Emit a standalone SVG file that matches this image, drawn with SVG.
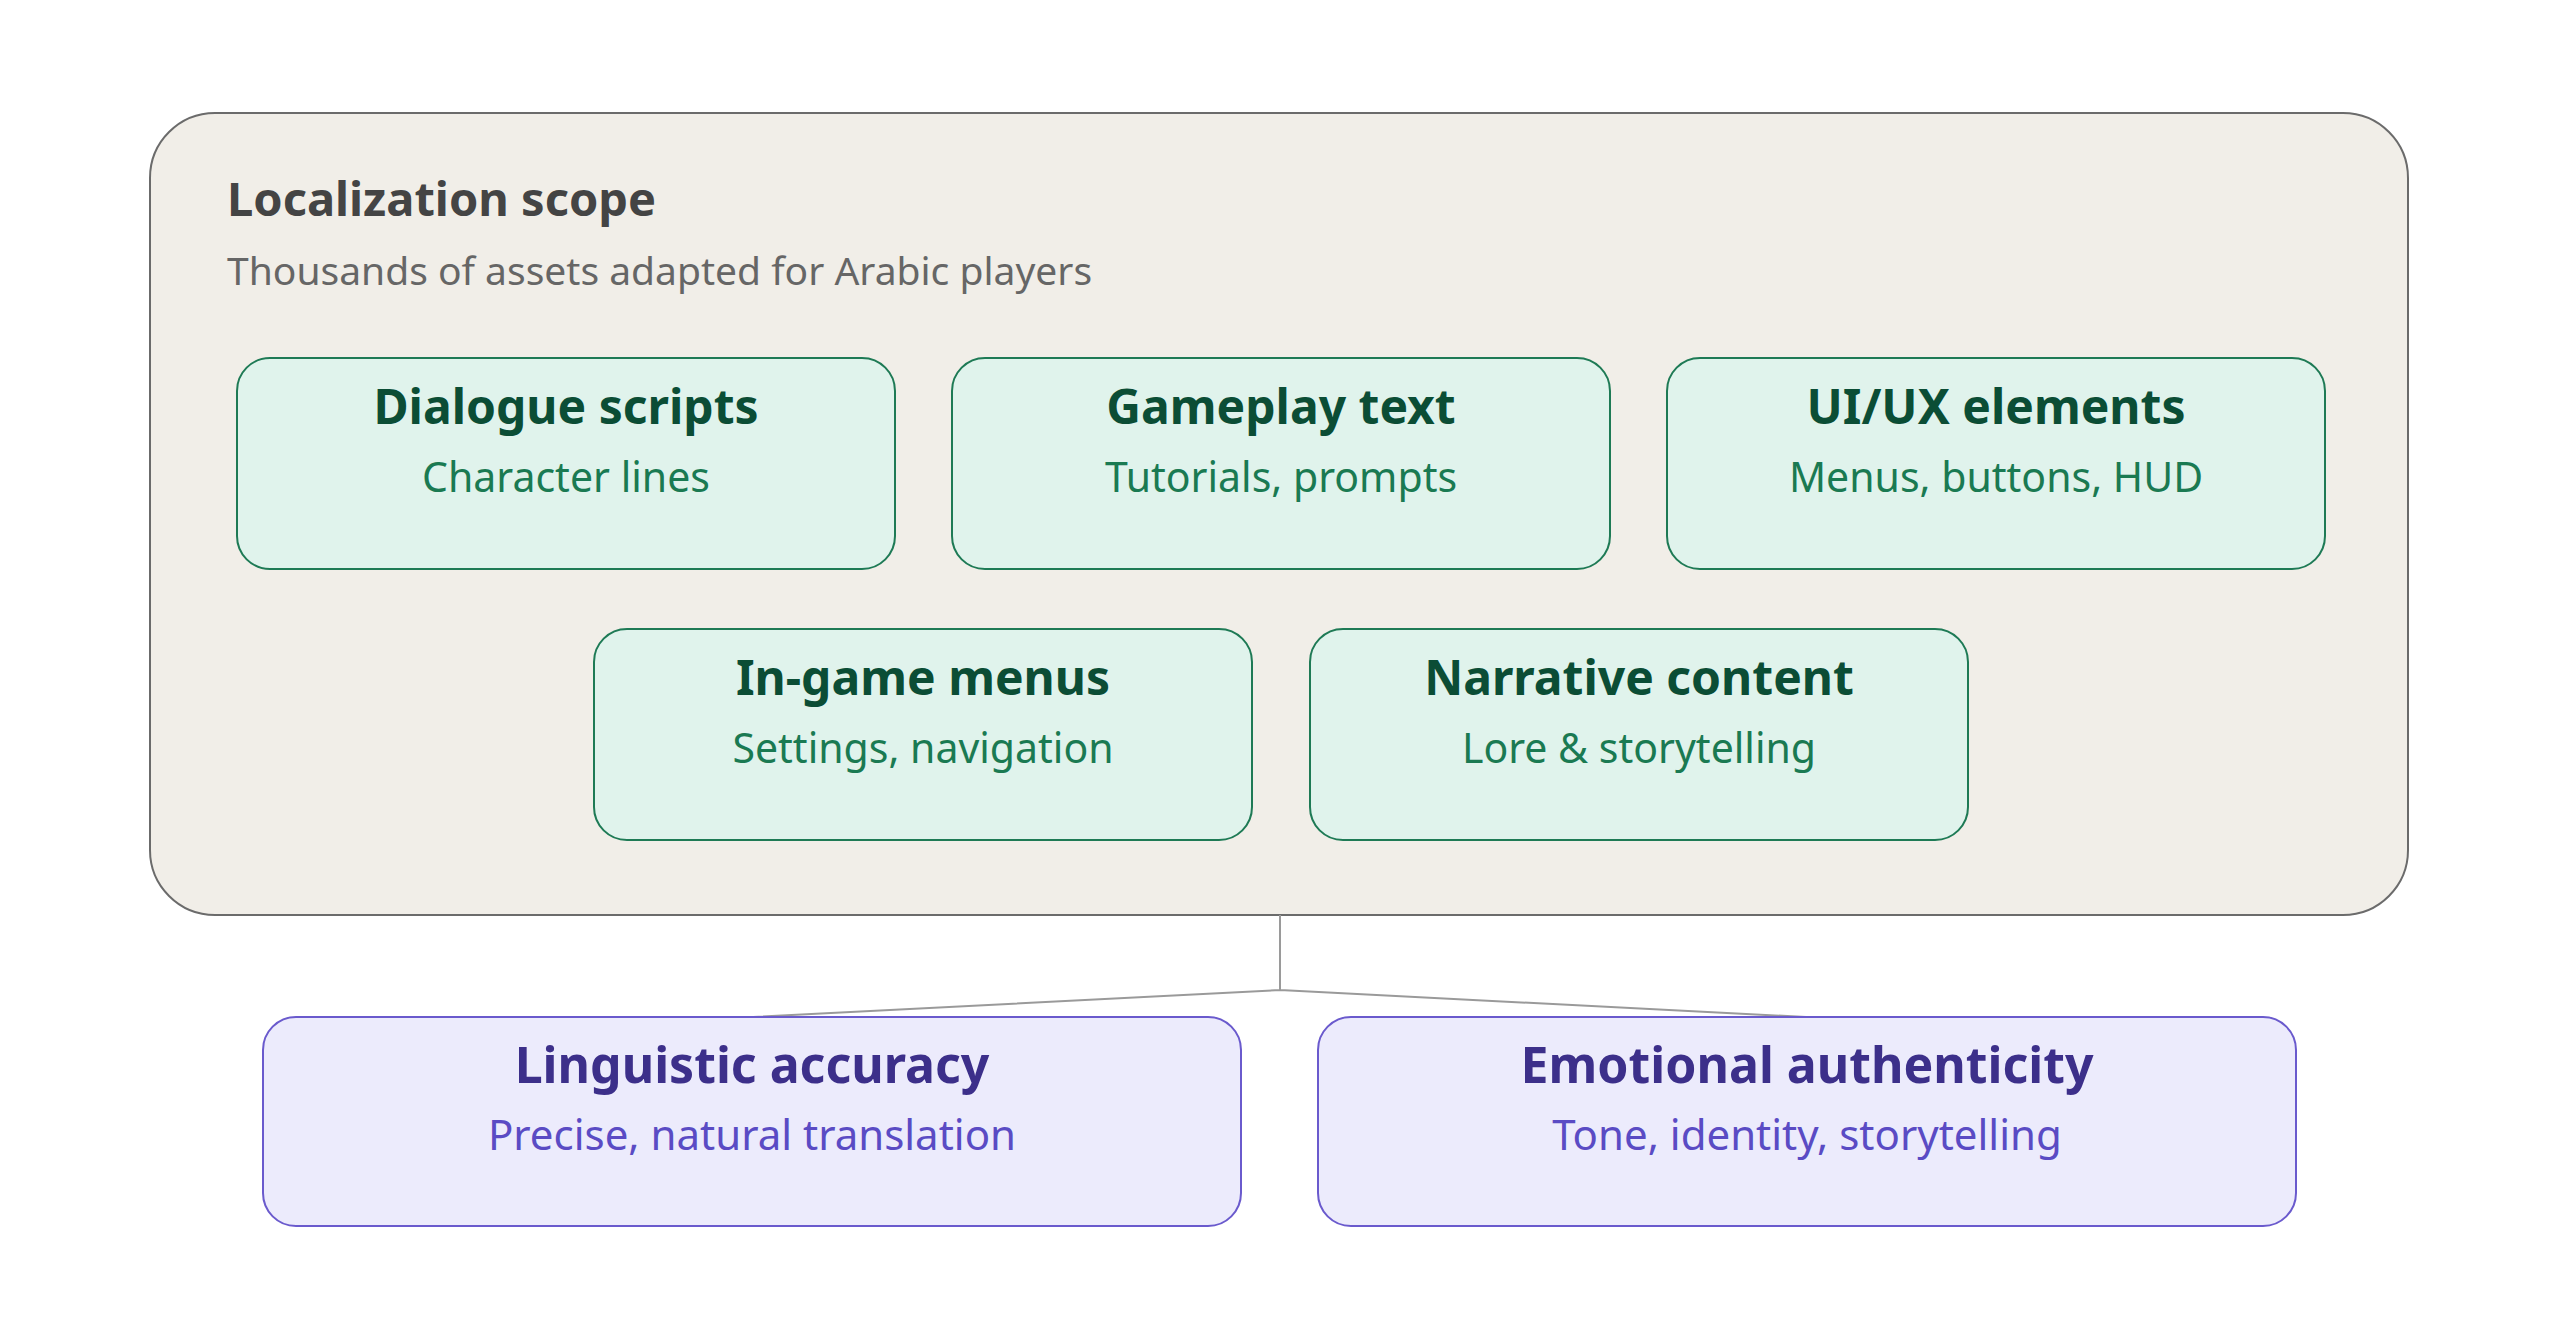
<svg xmlns="http://www.w3.org/2000/svg" width="2560" height="1318" viewBox="0 0 2560 1318">
<style>
text{font-family:"Noto Sans","Open Sans","DejaVu Sans",sans-serif;text-anchor:middle}
.g rect{fill:#e0f3ec;stroke:#1e7a55;stroke-width:2}
.g .t{font-size:48px;font-weight:bold;fill:#0b4d35}
.g .s{font-size:41px;fill:#1a7a52}
.p rect{fill:#ecebfc;stroke:#6a5acd;stroke-width:2}
.p .t{font-size:50px;font-weight:bold;fill:#3c2f8a}
.p .s{font-size:42px;fill:#5a4bc4}
.c{stroke:#9a9a9a;stroke-width:2;fill:none}
</style>
<rect width="2560" height="1318" fill="#fff"/>
<g id="scope">
<rect x="150" y="113" width="2258" height="802" rx="65" fill="#f1eee8" stroke="#6b6b6b" stroke-width="2"/>
<text x="227" y="216" style="text-anchor:start;font-size:47px;font-weight:bold;fill:#444">Localization scope</text>
<text x="227" y="285" style="text-anchor:start;font-size:39px;fill:#666">Thousands of assets adapted for Arabic players</text>
</g>
<g id="dialogue" class="g"><rect x="237" y="358" width="658" height="211" rx="33"/><text class="t" x="566" y="424">Dialogue scripts</text><text class="s" x="566" y="492">Character lines</text></g>
<g id="gameplay" class="g"><rect x="952" y="358" width="658" height="211" rx="33"/><text class="t" x="1281" y="424">Gameplay text</text><text class="s" x="1281" y="492">Tutorials, prompts</text></g>
<g id="uiux" class="g"><rect x="1667" y="358" width="658" height="211" rx="33"/><text class="t" x="1996" y="424">UI/UX elements</text><text class="s" x="1996" y="492">Menus, buttons, HUD</text></g>
<g id="menus" class="g"><rect x="594" y="629" width="658" height="211" rx="33"/><text class="t" x="923" y="695">In-game menus</text><text class="s" x="923" y="763">Settings, navigation</text></g>
<g id="narrative" class="g"><rect x="1310" y="629" width="658" height="211" rx="33"/><text class="t" x="1639" y="695">Narrative content</text><text class="s" x="1639" y="763">Lore &amp; storytelling</text></g>
<g id="connectors">
<path class="c" d="M1280 915 V990 L753 1017 M1280 990 L1806 1017"/>
</g>
<g id="linguistic" class="p"><rect x="263" y="1017" width="978" height="209" rx="33"/><text class="t" x="752" y="1083">Linguistic accuracy</text><text class="s" x="752" y="1150">Precise, natural translation</text></g>
<g id="emotional" class="p"><rect x="1318" y="1017" width="978" height="209" rx="33"/><text class="t" x="1807" y="1083">Emotional authenticity</text><text class="s" x="1807" y="1150">Tone, identity, storytelling</text></g>
</svg>
